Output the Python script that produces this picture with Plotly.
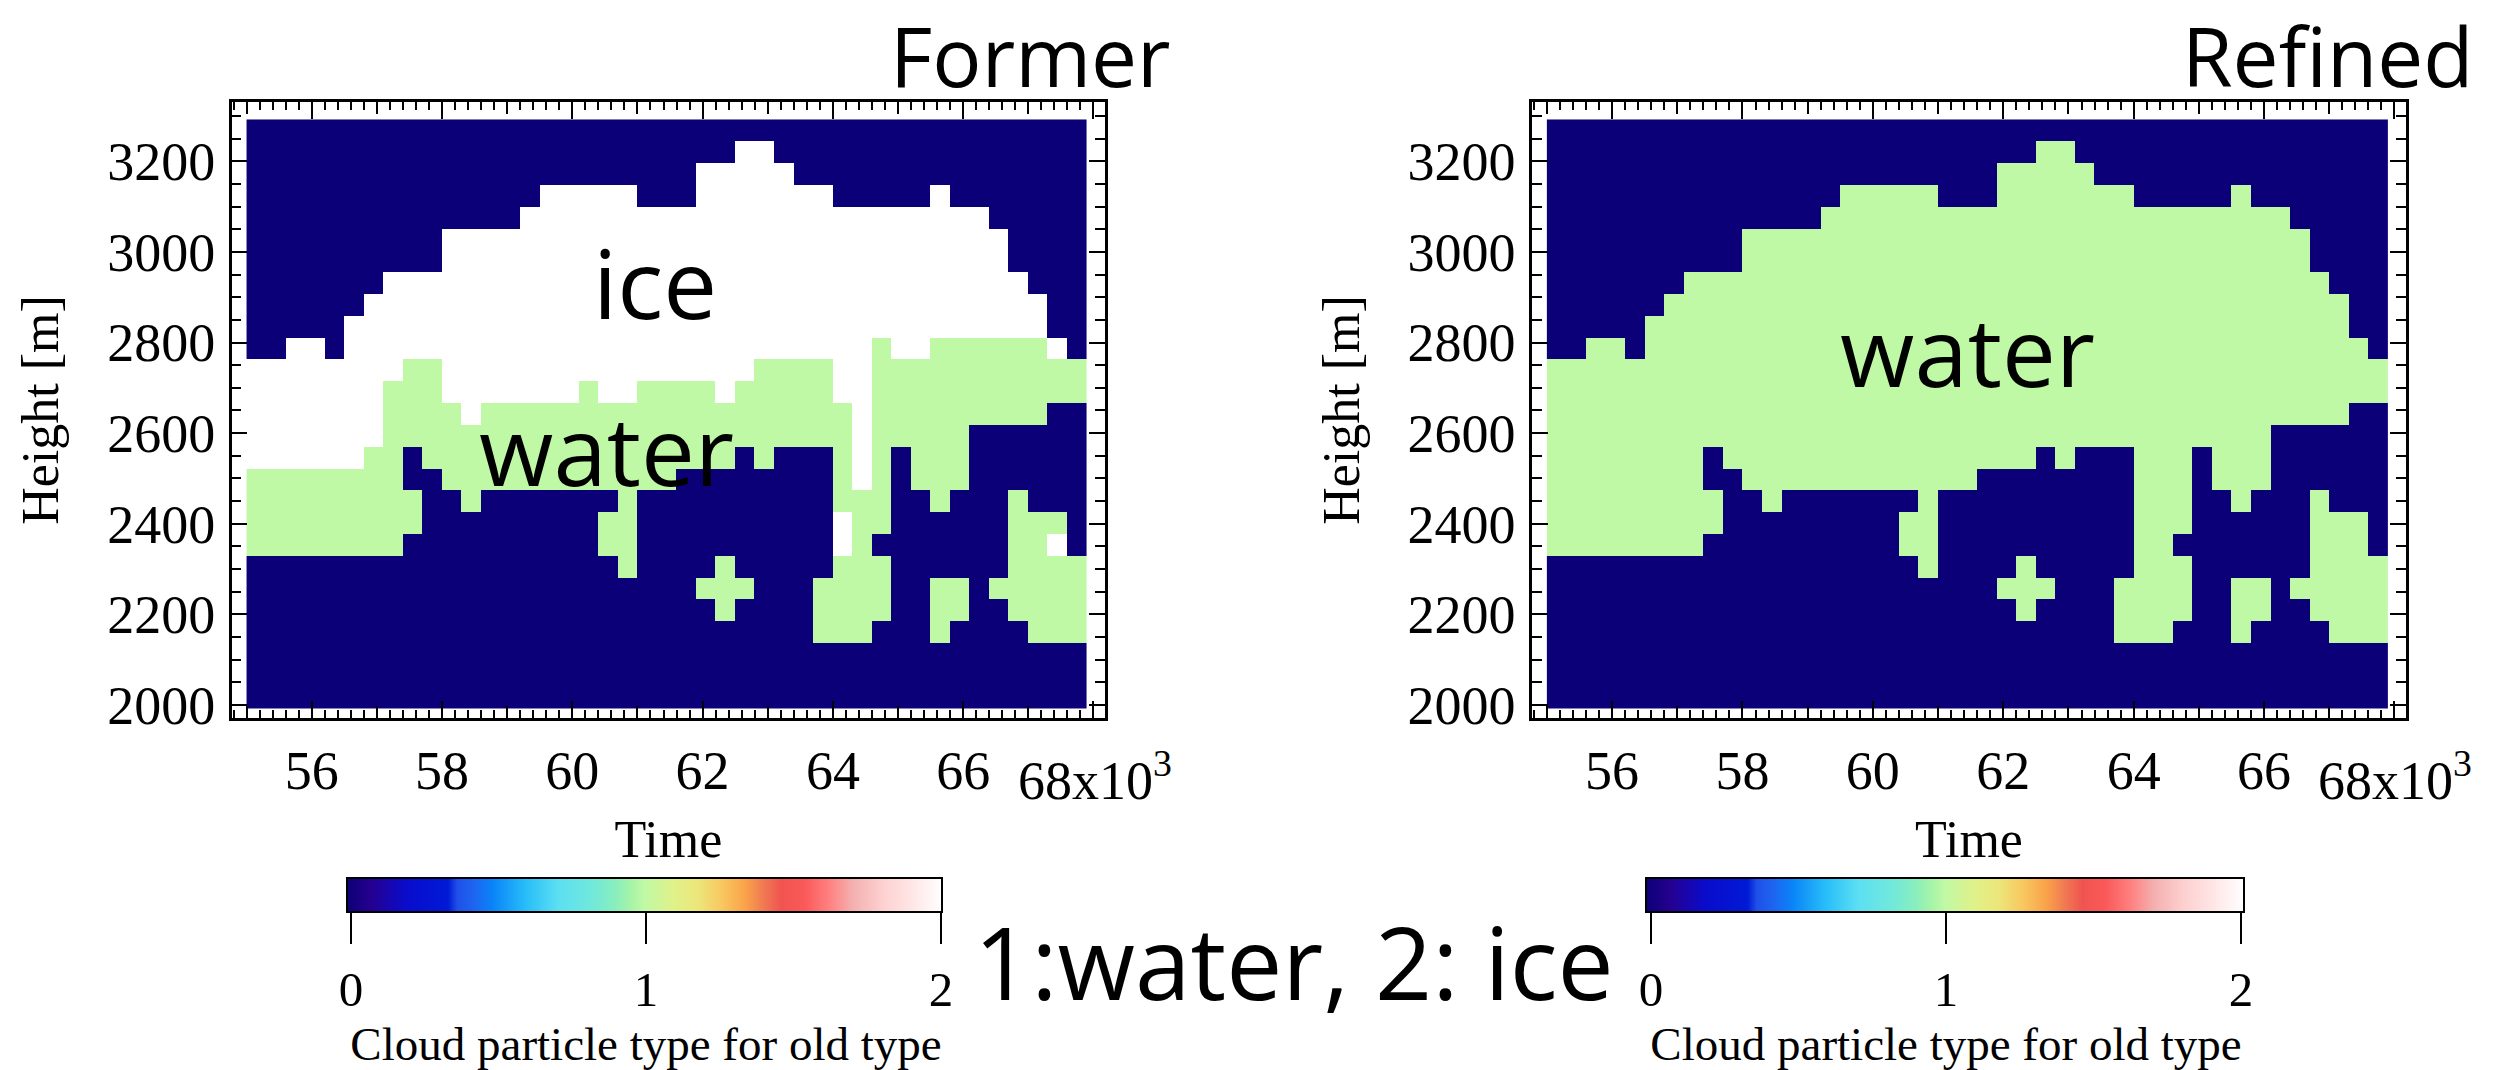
import plotly.graph_objects as go

# ---------------- data ----------------
TIME_FIRST_CENTER = 55150      # s, centre of first time column
TIME_STEP = 300                # s
HEIGHT_FIRST_CENTER = 2015.1   # m, centre of lowest level
HEIGHT_STEP = 48.2             # m

# one string per time column, read from top level (≈3268 m) down to lowest (≈2015 m)
# 0: no cloud, 1: water, 2: ice
FORMER_COLUMNS = [
    "000000000002222211110000000",
    "000000000002222211110000000",
    "000000000022222211110000000",
    "000000000022222211110000000",
    "000000000002222211110000000",
    "000000000222222211110000000",
    "000000002222222111110000000",
    "000000022222111111110000000",
    "000000022221111001100000000",
    "000000022221111100000000000",
    "000002222222211110000000000",
    "000002222222221111000000000",
    "000002222222211110000000000",
    "000002222222211110000000000",
    "000022222222211110000000000",
    "000222222222211110000000000",
    "000222222222211110000000000",
    "000222222222111110000000000",
    "000222222222211110110000000",
    "000222222222211111111000000",
    "000022222222111110000000000",
    "000022222222111110000000000",
    "000022222222111100000000000",
    "002222222222111100000100000",
    "002222222222211100001110000",
    "022222222222111000000100000",
    "022222222221111100000000000",
    "002222222221111000000000000",
    "000222222221111000000000000",
    "000222222221111000000111000",
    "000022222222211111221111000",
    "000022222222222221111111000",
    "000022222211111111101110000",
    "000022222221111000000000000",
    "000022222221111110000000000",
    "000222222211111111000111000",
    "000022222211111110000110000",
    "000022222211110000000000000",
    "000002222211110000000100000",
    "000000022211110001111110000",
    "000000002211110000111111000",
    "000000000021100000121111000",
    "000000000001100000001111000",
]

REFINED_COLUMNS = [
    "000000000001111111110000000",
    "000000000001111111110000000",
    "000000000011111111110000000",
    "000000000011111111110000000",
    "000000000001111111110000000",
    "000000000111111111110000000",
    "000000001111111111110000000",
    "000000011111111111110000000",
    "000000011111111001100000000",
    "000000011111111100000000000",
    "000001111111111110000000000",
    "000001111111111111000000000",
    "000001111111111110000000000",
    "000001111111111110000000000",
    "000011111111111110000000000",
    "000111111111111110000000000",
    "000111111111111110000000000",
    "000111111111111110000000000",
    "000111111111111110110000000",
    "000111111111111111111000000",
    "000011111111111110000000000",
    "000011111111111110000000000",
    "000011111111111100000000000",
    "001111111111111100000100000",
    "001111111111111100001110000",
    "011111111111111000000100000",
    "011111111111111100000000000",
    "001111111111111000000000000",
    "000111111111111000000000000",
    "000111111111111000000111000",
    "000011111111111111111111000",
    "000011111111111111111111000",
    "000011111111111111101110000",
    "000011111111111000000000000",
    "000011111111111110000000000",
    "000111111111111111000111000",
    "000011111111111110000110000",
    "000011111111110000000000000",
    "000001111111110000000100000",
    "000000011111110001111110000",
    "000000001111110000111111000",
    "000000000011100000111111000",
    "000000000001100000001111000",
]

X_TICK_VALUES = [56000, 58000, 60000, 62000, 64000, 66000, 68000]
X_TICK_TEXT = ["56", "58", "60", "62", "64", "66", " "]
Y_TICK_VALUES = [2000, 2200, 2400, 2600, 2800, 3000, 3200]
Y_TICK_TEXT = ["2000", "2200", "2400", "2600", "2800", "3000", "3200"]
CBAR_TICK_VALUES = [0, 1, 2]
CBAR_TICK_TEXT = ["0", "1", "2"]


def to_rows(columns):
    n = len(columns[0])
    return [[int(col[n - 1 - r]) for col in columns] for r in range(n)]


# ---------------- style ----------------
W, H = 2500, 1070
SERIF = "Liberation Serif"
SANS = "Open Sans"
X_RANGE = [54772, 68177]
Y_RANGE = [1971, 3331]
Y_DOMAIN = [1 - 718 / H, 1 - 102 / H]

CSCALE = [
    [0.00, "#0c0078"], [0.04, "#26008f"], [0.10, "#0a0ccc"], [0.17, "#001ad6"],
    [0.185, "#1e50e8"], [0.21, "#1f62ef"], [0.245, "#0a84f8"], [0.30, "#28bdf8"],
    [0.355, "#5cdff2"], [0.41, "#70e8dc"], [0.45, "#88eebe"], [0.48, "#a8f5a6"],
    [0.50, "#c0f9a5"], [0.55, "#e0f189"], [0.59, "#ece67a"], [0.63, "#f8c860"],
    [0.67, "#f9a24a"], [0.70, "#f07a52"], [0.73, "#f05450"], [0.77, "#fa5a5a"],
    [0.81, "#ff8080"], [0.85, "#f4b0b0"], [0.90, "#fdd0d0"], [0.95, "#ffe6e6"],
    [1.00, "#ffffff"],
]

TICKFONT = dict(family=SERIF, size=54, color="black")
TITLEFONT = dict(family=SERIF, size=52, color="black")


def colorbar(center_px, length_px):
    return dict(orientation="h", x=center_px / W, xanchor="center",
                y=1 - 878 / H, yanchor="top", len=length_px, lenmode="pixels",
                thickness=34, thicknessmode="pixels", xpad=0, ypad=0,
                outlinewidth=2, outlinecolor="black", ticks="",
                showticklabels=False, borderwidth=0)


fig = go.Figure()
fig.add_trace(go.Heatmap(
    z=to_rows(FORMER_COLUMNS), x0=TIME_FIRST_CENTER, dx=TIME_STEP,
    y0=HEIGHT_FIRST_CENTER, dy=HEIGHT_STEP, zmin=0, zmax=2,
    colorscale=CSCALE, xaxis="x", yaxis="y", hoverinfo="skip",
    colorbar=colorbar(644.5, 595)))
fig.add_trace(go.Heatmap(
    z=to_rows(REFINED_COLUMNS), x0=TIME_FIRST_CENTER, dx=TIME_STEP,
    y0=HEIGHT_FIRST_CENTER, dy=HEIGHT_STEP, zmin=0, zmax=2,
    colorscale=CSCALE, xaxis="x2", yaxis="y2", hoverinfo="skip",
    colorbar=colorbar(1945, 598)))

# empty traces so that the helper axes (colour-bar scales, medium ticks) get drawn
for xa, ya in [("x3", "y3"), ("x4", "y4"), ("x5", "y"), ("x6", "y2")]:
    fig.add_trace(go.Scatter(x=[], y=[], xaxis=xa, yaxis=ya, mode="markers",
                             hoverinfo="skip", showlegend=False))


def main_x(domain, anchor):
    return dict(domain=domain, anchor=anchor, range=X_RANGE, automargin=False,
                tickmode="array", tickvals=X_TICK_VALUES, ticktext=X_TICK_TEXT,
                ticks="inside", ticklen=17, tickwidth=2, tickcolor="black",
                minor=dict(tickmode="linear", tick0=0, dtick=200, ticks="inside",
                           ticklen=8, tickwidth=1.5, tickcolor="black"),
                showline=True, linewidth=2.5, linecolor="black", mirror="ticks",
                showgrid=False, zeroline=False, tickfont=TICKFONT,
                ticklabelstandoff=3,
                title=dict(text="Time", font=TITLEFONT, standoff=22),
                fixedrange=True)


def medium_x(overlay, anchor):
    return dict(overlaying=overlay, anchor=anchor, side="bottom", range=X_RANGE,
                automargin=False,
                tickmode="linear", tick0=1000, dtick=2000, ticks="inside",
                ticklen=12, tickwidth=1.5, tickcolor="black",
                showticklabels=False, showline=True, linewidth=2.5,
                linecolor="black", mirror="ticks", showgrid=False,
                zeroline=False, fixedrange=True)


def main_y(anchor):
    return dict(domain=Y_DOMAIN, anchor=anchor, range=Y_RANGE, automargin=False,
                tickmode="array", tickvals=Y_TICK_VALUES, ticktext=Y_TICK_TEXT,
                ticks="inside", ticklen=16, tickwidth=2, tickcolor="black",
                minor=dict(tickmode="linear", tick0=0, dtick=50, ticks="inside",
                           ticklen=10, tickwidth=1.5, tickcolor="black"),
                showline=True, linewidth=2.5, linecolor="black", mirror="ticks",
                showgrid=False, zeroline=False, tickfont=TICKFONT,
                ticklabelstandoff=3,
                title=dict(text="Height [m]", font=TITLEFONT, standoff=32),
                fixedrange=True)


def cbar_x(domain, anchor):
    return dict(domain=domain, anchor=anchor, range=[0, 2], side="bottom",
                automargin=False,
                tickmode="array", tickvals=CBAR_TICK_VALUES, ticktext=CBAR_TICK_TEXT,
                ticks="outside", ticklen=31, tickwidth=2, tickcolor="black",
                showline=False, showgrid=False, zeroline=False,
                tickfont=dict(family=SERIF, size=49, color="black"),
                ticklabelstandoff=3,
                title=dict(text="Cloud particle type for old type",
                           font=dict(family=SERIF, size=47, color="black"),
                           standoff=25),
                fixedrange=True)


def cbar_y(anchor):
    return dict(domain=[1 - 912 / H, 1 - 878 / H], anchor=anchor, range=[0, 1],
                automargin=False, showticklabels=False, ticks="", showline=False,
                showgrid=False, zeroline=False, fixedrange=True)


layout = dict(
    width=W, height=H, margin=dict(l=0, r=0, t=0, b=0, autoexpand=False),
    paper_bgcolor="white", plot_bgcolor="white", showlegend=False,
    xaxis=main_x([231.7 / W, 1105 / W], "y"),
    yaxis=main_y("x"),
    xaxis2=main_x([1532 / W, 2406 / W], "y2"),
    yaxis2=main_y("x2"),
    xaxis3=cbar_x([351 / W, 941 / W], "y3"),
    yaxis3=cbar_y("x3"),
    xaxis4=cbar_x([1651 / W, 2241 / W], "y4"),
    yaxis4=cbar_y("x4"),
    xaxis5=medium_x("x", "y"),
    xaxis6=medium_x("x2", "y2"),
)
fig.update_layout(**layout)

annots = [
    dict(text="ice", x=61277, y=2934, xref="x", yref="y",
         font=dict(family=SANS, size=96, color="black")),
    dict(text="water", x=60532, y=2566, xref="x", yref="y",
         font=dict(family=SANS, size=96, color="black")),
    dict(text="water", x=61444, y=2784, xref="x2", yref="y2",
         font=dict(family=SANS, size=96, color="black")),
    dict(text="Former", x=1030.5 / W, y=1.0, xref="paper", yref="paper",
         yanchor="top", yshift=3, font=dict(family=SANS, size=82, color="black")),
    dict(text="Refined", x=2327.5 / W, y=1.0, xref="paper", yref="paper",
         yanchor="top", yshift=3, font=dict(family=SANS, size=82, color="black")),
    dict(text="1:water, 2: ice", x=1294 / W, y=1 - 961 / H, xref="paper", yref="paper",
         font=dict(family=SANS, size=100, color="black")),
    dict(text="68x10<sup>3</sup>", x=1016 / W, y=1 - 813 / H, xref="paper",
         yref="paper", xanchor="left", yanchor="bottom", font=TICKFONT),
    dict(text="68x10<sup>3</sup>", x=2316.3 / W, y=1 - 813 / H, xref="paper",
         yref="paper", xanchor="left", yanchor="bottom", font=TICKFONT),
]
for a in annots:
    a.setdefault("xanchor", "center")
    a.setdefault("yanchor", "middle")
    a["showarrow"] = False
    fig.add_annotation(**a)

fig.write_html("out.html")
